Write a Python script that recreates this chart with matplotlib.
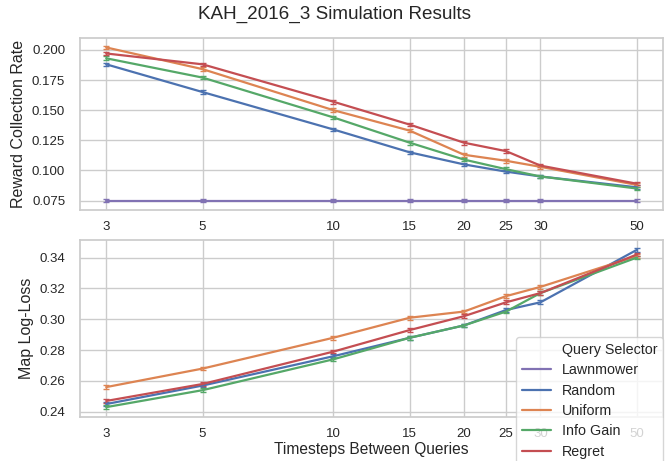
import matplotlib
matplotlib.use("Agg")
import matplotlib.pyplot as plt
import seaborn as sns
from matplotlib.lines import Line2D
from matplotlib.ticker import FixedLocator, NullLocator, FixedFormatter

sns.set_theme(style="whitegrid")
plt.rcParams['font.family'] = ['Liberation Sans', 'DejaVu Sans']

# --- データ ---
steps = [3, 5, 10, 15, 20, 25, 30, 50]
selectors = ["Lawnmower", "Random", "Uniform", "Info Gain", "Regret"]
colors = ["#8172B3", "#4C72B0", "#DD8452", "#55A868", "#C44E52"]

reward_lawnmower = [0.075, 0.075, 0.075, 0.075, 0.075, 0.075, 0.075, 0.075]
reward_random = [0.188, 0.165, 0.134, 0.115, 0.105, 0.099, 0.095, 0.086]
reward_uniform = [0.202, 0.184, 0.150, 0.133, 0.113, 0.108, 0.103, 0.088]
reward_infogain = [0.193, 0.177, 0.144, 0.123, 0.109, 0.101, 0.095, 0.085]
reward_regret = [0.197, 0.188, 0.157, 0.138, 0.123, 0.116, 0.104, 0.089]

loss_random = [0.245, 0.257, 0.276, 0.288, 0.296, 0.306, 0.311, 0.345]
loss_uniform = [0.256, 0.268, 0.288, 0.301, 0.305, 0.315, 0.321, 0.341]
loss_infogain = [0.243, 0.254, 0.274, 0.288, 0.296, 0.305, 0.317, 0.340]
loss_regret = [0.247, 0.258, 0.279, 0.293, 0.302, 0.311, 0.317, 0.342]

# 誤差棒（目測）
reward_err = 0.0015
loss_err = 0.0012

reward_data = [reward_lawnmower, reward_random, reward_uniform, reward_infogain, reward_regret]
loss_data = [None, loss_random, loss_uniform, loss_infogain, loss_regret]

fig = plt.figure(figsize=(6.7, 4.61), dpi=100)
ax1 = fig.add_axes([0.119, 0.544, 0.871, 0.374])
ax2 = fig.add_axes([0.119, 0.0954, 0.871, 0.384])

for name, col, r, l in zip(selectors, colors, reward_data, loss_data):
    ax1.errorbar(steps, r, yerr=reward_err, color=col, lw=1.6, capsize=2, elinewidth=1)
    if l is not None:
        ax2.errorbar(steps, l, yerr=loss_err, color=col, lw=1.6, capsize=2, elinewidth=1)

for ax in (ax1, ax2):
    ax.set_xscale("log")
    ax.xaxis.set_major_locator(FixedLocator(steps))
    ax.xaxis.set_major_formatter(FixedFormatter([str(s) for s in steps]))
    ax.xaxis.set_minor_locator(NullLocator())
    ax.tick_params(axis="x", labelsize=9.5, pad=2)
    ax.tick_params(axis="y", labelsize=9.5, pad=4.5)
    ax.grid(True, which="major")

ax1.set_yticks([0.075, 0.100, 0.125, 0.150, 0.175, 0.200])
ax1.set_yticklabels(["0.075", "0.100", "0.125", "0.150", "0.175", "0.200"])
ax2.set_yticks([0.24, 0.26, 0.28, 0.30, 0.32, 0.34])
ax2.set_yticklabels(["0.24", "0.26", "0.28", "0.30", "0.32", "0.34"])

ax1.set_ylabel("Reward Collection Rate", fontsize=11.5)
ax2.set_ylabel("Map Log-Loss", fontsize=11.5)
ax2.set_xlabel("Timesteps Between Queries", fontsize=11.2, labelpad=1)

fig.suptitle("KAH_2016_3 Simulation Results", fontsize=13.6, y=0.968, va="center")

handles = [Line2D([], [], color="none")]
labels = ["Query Selector"]
for name, col in zip(selectors, colors):
    handles.append(Line2D([], [], color=col, lw=1.6))
    labels.append(name)
fig.legend(handles, labels, loc="upper right", bbox_to_anchor=(0.99, 1 - 337 / 461),
           fontsize=10.3, borderaxespad=0, labelspacing=0.45)

fig.savefig("out.png", dpi=100)
